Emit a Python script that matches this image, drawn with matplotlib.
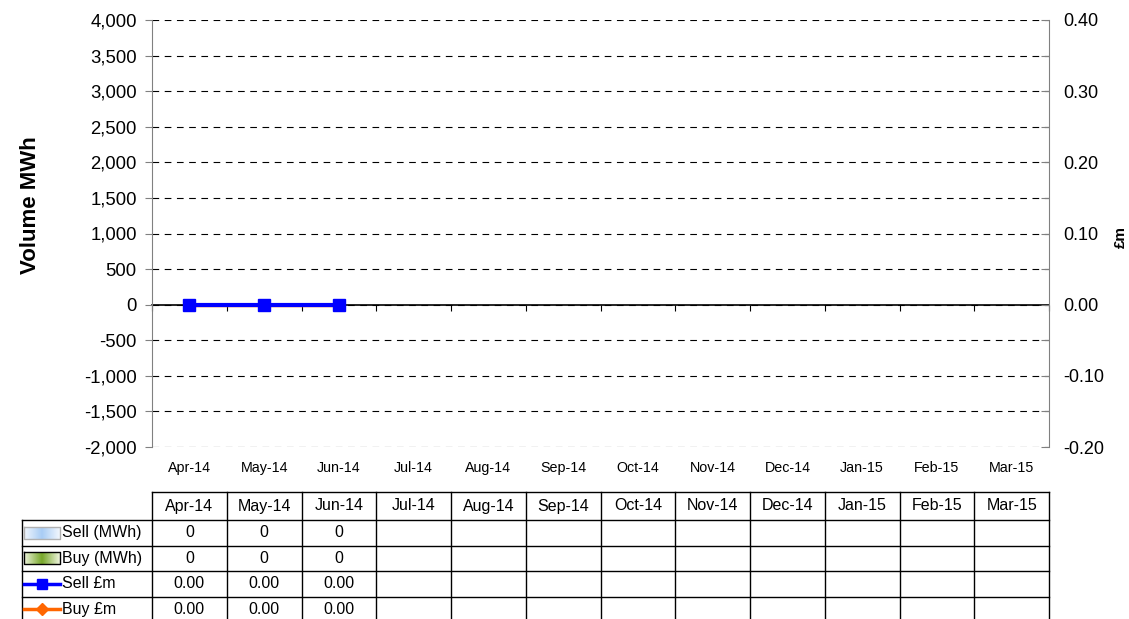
import matplotlib.pyplot as plt
import matplotlib.ticker as mticker
import numpy as np

plt.rcParams['font.family'] = ['Liberation Sans', 'DejaVu Sans']

months = ['Apr-14', 'May-14', 'Jun-14', 'Jul-14', 'Aug-14', 'Sep-14',
          'Oct-14', 'Nov-14', 'Dec-14', 'Jan-15', 'Feb-15', 'Mar-15']
sell_mwh = [0, 0, 0]        # volume sold (MWh), only first 3 months reported
buy_mwh = [0, 0, 0]         # volume bought (MWh)
sell_gbp = [0.00, 0.00, 0.00]  # sell value (£m)
buy_gbp = [0.00, 0.00, 0.00]   # buy value (£m)

W, H = 1129, 619
fig = plt.figure(figsize=(W / 100, H / 100), dpi=100)

# main chart area
ax = fig.add_axes([152 / W, (H - 447) / H, (1049 - 152) / W, (447 - 20) / H])
x = np.arange(len(months))
xs = np.arange(len(sell_mwh))

ax.bar(xs - 0.2, sell_mwh, width=0.4, color='#9cc3f0', zorder=2)
ax.bar(xs + 0.2, buy_mwh, width=0.4, color='#7aa830', zorder=2)

ax.set_xlim(-0.5, len(months) - 0.5)
ax.set_ylim(-2000, 4000)
ax.yaxis.set_major_locator(mticker.MultipleLocator(500))
ax.yaxis.set_major_formatter(mticker.FuncFormatter(lambda v, p: f'{v:,.0f}'))
ax.grid(axis='y', color='black', linestyle=(0, (6, 5)), linewidth=0.8)
ax.set_axisbelow(True)
ax.set_xticks(x, months)
ax.tick_params(axis='x', length=0, pad=10, labelsize=10.3)
ax.tick_params(axis='y', direction='out', length=5, width=0.8, color='#808080',
               labelsize=13.3, pad=6)
for s in ['top', 'bottom', 'right']:
    ax.spines[s].set_visible(False)
ax.spines['left'].set_color('#808080')

# zero line with category boundary ticks
zero = ax.secondary_xaxis(2000 / 6000)
zero.set_xticks(np.arange(len(months) + 1) - 0.5)
zero.tick_params(direction='out', length=4, width=0.8, labelbottom=False)
zero.spines['bottom'].set_color('black')
zero.spines['bottom'].set_linewidth(1.2)

# secondary axis in £m
ax2 = ax.twinx()
ax2.set_ylim(-0.20, 0.40)
ax2.yaxis.set_major_locator(mticker.MultipleLocator(0.1))
ax2.yaxis.set_minor_locator(mticker.MultipleLocator(0.05))
ax2.yaxis.set_major_formatter(mticker.FormatStrFormatter('%.2f'))
ax2.tick_params(axis='y', which='both', direction='in', length=6, width=0.8,
                color='#808080', labelsize=13, pad=10)
for s in ['top', 'bottom', 'left']:
    ax2.spines[s].set_visible(False)
ax2.spines['right'].set_color('#808080')
ax2.plot(xs, buy_gbp, color='#ff6600', marker='D', markersize=6, linewidth=2.5, zorder=3)
ax2.plot(xs, sell_gbp, color='#0000ff', marker='s', markersize=8, linewidth=3, zorder=4)

fig.text(30 / W, 1 - 205 / H, 'Volume MWh', rotation=90, ha='center', va='center',
         fontsize=16, fontweight='bold')
fig.text(1121 / W, 1 - 237 / H, '£m', rotation=90, ha='center', va='center',
         fontsize=11, fontweight='bold')

# data table under the chart (y in pixels below its top edge)
tax = fig.add_axes([152 / W, 0, (1049 - 152) / W, (H - 492) / H])
tax.set_xlim(-0.5, len(months) - 0.5)
tax.set_ylim(H - 492, 0)
tax.axis('off')
rows = [0, 28, 53.5, 79, 104.5, 130]
left = -0.5 - 130 / 74.75
lw = 1
# horizontal lines
tax.plot([-0.5, 11.5], [rows[0]] * 2, color='black', lw=lw, clip_on=False)
for r in rows[1:]:
    tax.plot([left, 11.5], [r, r], color='black', lw=lw, clip_on=False)
# vertical lines
for c in np.arange(len(months) + 1) - 0.5:
    tax.plot([c, c], [rows[0], rows[-1]], color='black', lw=lw, clip_on=False)
tax.plot([left, left], [rows[1], rows[-1]], color='black', lw=lw, clip_on=False)

def mid(i):
    return (rows[i] + rows[i + 1]) / 2

fs = 11.5
for i, m in enumerate(months):
    tax.text(i, mid(0), m, ha='center', va='center', fontsize=fs)
series = [('Sell (MWh)', [f'{v:,.0f}' for v in sell_mwh]),
          ('Buy (MWh)', [f'{v:,.0f}' for v in buy_mwh]),
          ('Sell £m', [f'{v:.2f}' for v in sell_gbp]),
          ('Buy £m', [f'{v:.2f}' for v in buy_gbp])]
sw0 = left + 2 / 74.75
sw1 = left + 38 / 74.75
for r, (name, vals) in enumerate(series, start=1):
    tax.text(left + 40 / 74.75, mid(r), name, ha='left', va='center', fontsize=fs)
    for i, v in enumerate(vals):
        tax.text(i, mid(r), v, ha='center', va='center', fontsize=fs)

# legend keys
grad = np.concatenate([np.linspace(0, 1, 50), np.linspace(1, 0, 50)])[None, :]
from matplotlib.colors import LinearSegmentedColormap
blue_cm = LinearSegmentedColormap.from_list('b', ['#f2f7fd', '#a9cdf5'])
green_cm = LinearSegmentedColormap.from_list('g', ['#eef4dc', '#78a82c'])
for r, cm, ec in [(1, blue_cm, '#b0b0b0'), (2, green_cm, 'black')]:
    y0, y1 = mid(r) - 6, mid(r) + 6
    tax.imshow(grad, cmap=cm, extent=[sw0, sw1, y1, y0], aspect='auto', clip_on=False)
    tax.plot([sw0, sw1, sw1, sw0, sw0], [y0, y0, y1, y1, y0], color=ec, lw=1, clip_on=False)
tax.plot([sw0, sw1], [mid(3)] * 2, color='#0000ff', lw=2.5, clip_on=False)
tax.plot([(sw0 + sw1) / 2], [mid(3)], color='#0000ff', marker='s', ms=7, clip_on=False)
tax.plot([sw0, sw1], [mid(4)] * 2, color='#ff6600', lw=2.5, clip_on=False)
tax.plot([(sw0 + sw1) / 2], [mid(4)], color='#ff6600', marker='D', ms=6, clip_on=False)
tax.set_xlim(-0.5, len(months) - 0.5)
tax.set_ylim(H - 492, 0)

fig.savefig('out.png', dpi=100)
